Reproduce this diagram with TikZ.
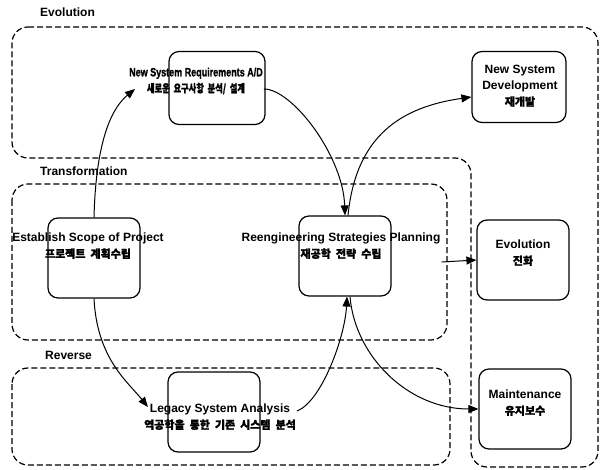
\documentclass[tikz,border=0pt]{standalone}
\usepackage{fontspec}
\setmainfont{Liberation Sans}
\newfontfamily\kr{Noto Sans CJK KR}[FakeBold=1.5, WordSpace=2]
\newfontfamily\heavy{Liberation Sans}[FakeBold=1.5]
\usetikzlibrary{arrows.meta}
\tikzset{
  region/.style={draw, line width=1.2pt, dash pattern=on 6pt off 3pt, rounded corners=16pt},
  box/.style={draw, line width=1.2pt, rounded corners=10pt, minimum width=92pt, minimum height=80pt},
  title/.style={font=\fontsize{12}{14}\selectfont\bfseries, anchor=west, inner sep=0pt},
  txt/.style={align=center, inner sep=1pt, font=\fontsize{12}{16}\selectfont\bfseries},
  link/.style={-{Triangle[length=10pt,width=8pt]}, line width=1pt}
}
\newcommand{\hg}[1]{{\kr\fontsize{11}{16}\selectfont #1}}
\newcommand{\narrow}[1]{\scalebox{0.75}[1]{\heavy\bfseries #1}}

\begin{document}
\begin{tikzpicture}[x=1pt,y=-1pt]
  \useasboundingbox (0,0) rectangle (605,470);

  %% regions
  \draw[region] (12,27) -- (598,27) -- (598,467) -- (471,467) -- (471,158) -- (12,158) -- cycle;
  \node[title] (evotitle) at (40,12) {Evolution};
  \draw[region] (12,184) rectangle (447,340);
  \node[title] (trtitle) at (40,171) {Transformation};
  \draw[region] (12,368) rectangle (450,465);
  \node[title] (revtitle) at (45,355) {Reverse};

  %% boxes
  \node[box, minimum width=96pt, minimum height=73pt] (nsr) at (217,88) {};
  \node[txt] (nsrtxt) at (196,81) {\narrow{New System Requirements A/D}\\\narrow{\hg{새로운 요구사항 분석/ 설계}}};

  \node[box, minimum width=94pt, minimum height=71pt] (nsd) at (519,87) {};
  \node[txt] (nsdtxt) at (520,86) {New System\\Development\\\hg{재개발}};

  \node[box] (esp) at (94,258) {};
  \node[txt] (esptxt) at (88,246) {Establish Scope of Project\\\hg{프로젝트 계획수립}};

  \node[box] (reeng) at (345,256) {};
  \node[txt] (reengtxt) at (341,246) {Reengineering Strategies Planning\\\hg{재공학 전략 수립}};

  \node[box] (evo) at (523,260) {};
  \node[txt] (evotxt) at (523,253) {Evolution\\\hg{진화}};

  \node[box] (leg) at (214,412) {};
  \node[txt] (legtxt) at (220,417) {Legacy System Analysis\\\hg{역공학을 통한 기존 시스템 분석}};

  \node[box] (mnt) at (525,409) {};
  \node[txt] (mnttxt) at (525,403) {Maintenance\\\hg{유지보수}};

  %% arrows
  \draw[link] (esp.north) .. controls +(2,-80) and +(-22,18) .. ([shift={(7pt,-8pt)}]nsrtxt.west);
  \draw[link] ([yshift=-8pt]nsrtxt.east) .. controls +(28,0) and +(-2,-60) .. (reeng.north);
  \draw[link] ([xshift=3pt]reeng.north) .. controls +(8,-80) and +(-70,10) .. ([yshift=-10pt]nsd.west);
  \draw[link] ([yshift=-16pt]reengtxt.east) -- (evo.west);
  \draw[link] (esp.south) .. controls +(3,60) and +(-20,-25) .. ([shift={(5pt,10pt)}]legtxt.west);
  \draw[link] ([yshift=6pt]legtxt.east) .. controls +(25,-10) and +(-2,40) .. ([xshift=2pt]reeng.south);
  \draw[link] ([xshift=5pt]reeng.south) .. controls +(5,60) and +(-70,0) .. (mnt.west);
\end{tikzpicture}
\end{document}
